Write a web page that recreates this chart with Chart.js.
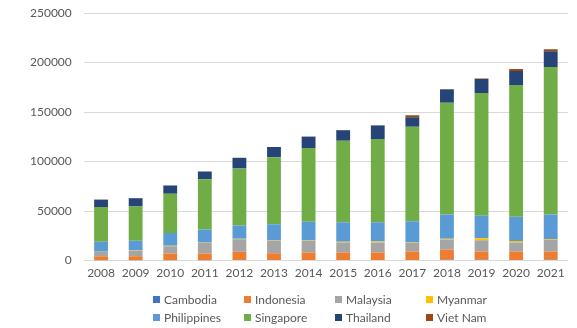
<!DOCTYPE html>
<html>
<head>
<meta charset="utf-8">
<script src="https://cdn.jsdelivr.net/npm/chart.js@4/dist/chart.umd.min.js"></script>
<style>
  body { margin: 0; background: #fff; }
  #wrap { position: relative; width: 577px; height: 328px; }
  #legend { position: absolute; left: 153px; top: 292px; display: grid;
    grid-template-columns: 91px 91px 91px 91px; row-gap: 4px;
    font-family: Lato, sans-serif; font-size: 12px; color: #595959; }
  #legend div { display: flex; align-items: center; height: 14px; white-space: nowrap; }
  #legend span.box { display: inline-block; width: 7px; height: 7px; margin-right: 4px; }
</style>
</head>
<body>
<div id="wrap">
  <canvas id="grafico" width="577" height="328"></canvas>
  <div id="legend"></div>
</div>
<script>
var years = ["2008","2009","2010","2011","2012","2013","2014","2015","2016","2017","2018","2019","2020","2021"]
var y_ticks = [0, 50000, 100000, 150000, 200000, 250000]

var cambodia    = [300,300,400,400,500,500,600,600,700,700,800,800,700,800]
var indonesia   = [4000,4000,6800,6800,8500,6800,7500,7500,7500,8500,10200,8500,8500,8500]
var malaysia    = [4400,6000,7400,10800,12500,12900,12200,10200,10200,8500,10200,11200,9100,11800]
var myanmar     = [300,300,300,400,500,500,600,700,800,700,900,2000,1500,700]
var philippines = [10000,9500,12900,12900,13500,15900,18300,19600,19600,21300,24400,22700,24400,24700]
var singapore   = [35000,34500,39600,50800,57600,67800,74600,82300,83900,95500,112800,124000,133100,149000]
var thailand    = [7500,8400,8400,7800,10500,10200,11200,10800,13600,9500,13500,14200,14200,15800]
var vietnam     = [100,100,100,100,200,200,200,200,300,2000,400,400,2000,2000]

var gris = "#595959"

function serie(nombre, valores, color){
  return { label: nombre, data: valores, backgroundColor: color, borderWidth: 0,
           barPercentage: 0.8, categoryPercentage: 0.5 }
}

var data = {
  labels: years,
  datasets: [
    serie("Cambodia", cambodia, "#4472C4"),
    serie("Indonesia", indonesia, "#ED7D31"),
    serie("Malaysia", malaysia, "#A5A5A5"),
    serie("Myanmar", myanmar, "#FFC000"),
    serie("Philippines", philippines, "#5B9BD5"),
    serie("Singapore", singapore, "#70AD47"),
    serie("Thailand", thailand, "#264478"),
    serie("Viet Nam", vietnam, "#9E480E")
  ]
}

var myChart = new Chart(document.getElementById("grafico"), {
  type: 'bar',
  data: data,
  options: {
    responsive: false,
    animation: false,
    layout: { padding: { left: 18, right: 9, top: 0, bottom: 43 } },
    plugins: { legend: { display: false }, tooltip: { enabled: false } },
    scales: {
      x: {
        stacked: true,
        grid: { display: false, drawTicks: false },
        border: { display: false },
        ticks: { color: gris, padding: 5, font: { family: "Lato", size: 12 } }
      },
      y: {
        stacked: true,
        min: 0,
        max: 250000,
        afterBuildTicks: function(axis){ axis.ticks = y_ticks.map(function(v){ return { value: v } }) },
        // el padding de las etiquetas empuja el area hacia abajo, lo recorto
        afterFit: function(scale){ scale.paddingTop = 13 },
        grid: { color: "#d9d9d9", drawTicks: false },
        border: { display: false },
        ticks: { color: gris, padding: 12, font: { family: "Lato", size: 12 },
                 callback: function(v){ return String(v) } }
      }
    }
  }
});

// leyenda en html para que las columnas queden alineadas
var leyenda = document.getElementById("legend")
for (let ds of myChart.data.datasets){
  var item = document.createElement("div")
  item.innerHTML = "<span class='box' style='background:" + ds.backgroundColor + "'></span>" + ds.label
  leyenda.appendChild(item)
}
</script>
</body>
</html>
